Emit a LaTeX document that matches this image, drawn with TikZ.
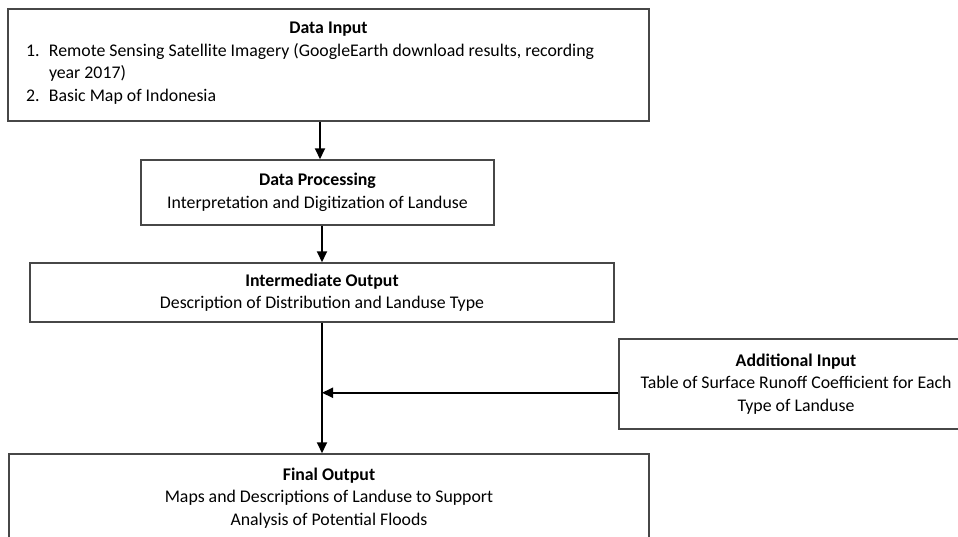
\documentclass[tikz,border=0pt]{standalone}
\usepackage{fontspec}
\setmainfont{Carlito}
\usetikzlibrary{arrows.meta,calc}
\begin{document}
\begin{tikzpicture}[x=1pt,y=-1pt,
  box/.style={draw=black!72, line width=1.5pt, inner sep=0pt, align=center,
    font=\fontsize{17.8}{22.6}\selectfont},
  arr/.style={line width=1.9pt, draw=black, -{Triangle[length=11pt,width=10pt]}}]
\clip (0,0) rectangle (958,536);
\useasboundingbox (0,0) rectangle (958,536);
\fill[white] (0,0) rectangle (958,536);
% boxes
\node[box, minimum width=641pt, minimum height=112pt] (di) at (328.5,65) {%
  \parbox[c][112pt][t]{641pt}{\vspace*{13pt}%
  \centering\textbf{Data Input}\par
  \raggedright
  \hspace*{18pt}\makebox[23pt][l]{1.}Remote Sensing Satellite Imagery (GoogleEarth download results, recording\\
  \hspace*{41pt}year 2017)\\
  \hspace*{18pt}\makebox[23pt][l]{2.}Basic Map of Indonesia\par}};
\node[box, minimum width=353pt, minimum height=65pt] (dp) at (317.5,192.5)
  {\textbf{Data Processing}\\Interpretation and Digitization of Landuse};
\node[box, minimum width=584pt, minimum height=59pt] (io) at (322,292.5)
  {\textbf{Intermediate Output}\\Description of Distribution and Landuse Type};
\node[box, minimum width=354pt, minimum height=90pt] (ai) at (796,384)
  {\textbf{Additional Input}\\Table of Surface Runoff Coefficient for Each\\Type of Landuse};
\node[box, minimum width=640pt, minimum height=88pt] (fo) at (329,498)
  {\textbf{Final Output}\\Maps and Descriptions of Landuse to Support\\Analysis of Potential Floods};
% connectors
\coordinate (a1) at ($(dp.north)+(2.5,0)$);
\draw[arr] (di.south -| a1) -- (a1);
\draw[arr] (dp.south -| io.north) -- (io.north);
\draw[arr] (io.south) -- (io.south |- fo.north);
\coordinate (j) at ($(io.south)+(0,70)$);
\draw[arr] (ai.west |- j) -- (j);
\end{tikzpicture}
\end{document}
